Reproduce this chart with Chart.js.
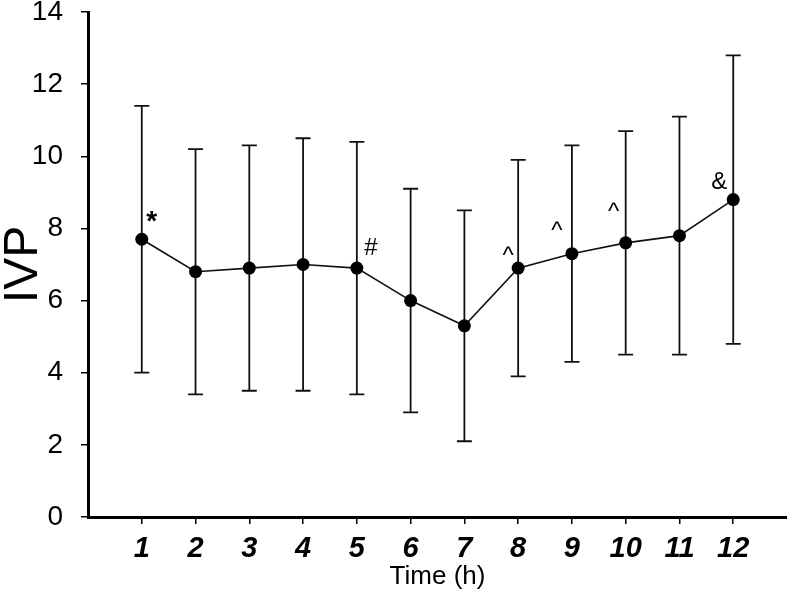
<!DOCTYPE html>
<html>
<head>
<meta charset="utf-8">
<script src="https://cdn.jsdelivr.net/npm/chart.js@4/dist/chart.umd.min.js"></script>
<style>
  html, body { margin: 0; padding: 0; background: #fff; }
  #wrap { width: 787px; height: 595px; }
</style>
</head>
<body>
<div id="wrap"><canvas id="ivp"></canvas></div>
<script>
(function(){
    // data
    const hours = [1, 2, 3, 4, 5, 6, 7, 8, 9, 10, 11, 12];
    const ivpMean = [7.7, 6.8, 6.9, 7.0, 6.9, 6.0, 5.3, 6.9, 7.3, 7.6, 7.8, 8.8];
    const ivpUpper = [11.4, 10.2, 10.3, 10.5, 10.4, 9.1, 8.5, 9.9, 10.3, 10.7, 11.1, 12.8];
    const ivpLower = [4.0, 3.4, 3.5, 3.5, 3.4, 2.9, 2.1, 3.9, 4.3, 4.5, 4.5, 4.8];
    const marks = ['*', '', '', '', '#', '', '', '^', '^', '^', '', '&'];
    const yTicks = [0, 2, 4, 6, 8, 10, 12, 14];

    // where each significance mark sits relative to its point (px)
    const markShift = [[10, -22], null, null, null, [14, -20], null, null, [-10, -12], [-15, -22], [-12, -30], null, [-14, -17]];

    const ctx = document.getElementById("ivp").getContext("2d");

    const errorBars = {
        id: 'errorBars',
        beforeDatasetsDraw(chart){
            const c = chart.ctx;
            const xs = chart.scales.x, ys = chart.scales.y;
            c.save();
            c.strokeStyle = '#111';
            c.lineWidth = 1.8;
            hours.forEach((h, i)=>{
                const px = xs.getPixelForValue(h);
                const top = ys.getPixelForValue(ivpUpper[i]);
                const bot = ys.getPixelForValue(ivpLower[i]);
                c.beginPath();
                c.moveTo(px, top); c.lineTo(px, bot);
                c.moveTo(px - 7.5, top); c.lineTo(px + 7.5, top);
                c.moveTo(px - 7.5, bot); c.lineTo(px + 7.5, bot);
                c.stroke();
            });
            c.restore();
        },
        afterDatasetsDraw(chart){
            const c = chart.ctx;
            const xs = chart.scales.x, ys = chart.scales.y;
            c.save();
            c.fillStyle = '#000';
            c.textAlign = 'center';
            c.textBaseline = 'middle';
            marks.forEach((m, i)=>{
                if(!m) return;
                const px = xs.getPixelForValue(hours[i]) + markShift[i][0];
                const py = ys.getPixelForValue(ivpMean[i]) + markShift[i][1];
                c.font = (m === '*' ? 'bold 28px' : '24px') + ' "Liberation Sans", Arial, sans-serif';
                c.fillText(m, px, py + (m === '*' ? 5 : 0));
            });
            c.restore();
        }
    };

    new Chart(ctx, {
        type: 'line',
        data: {
            datasets: [{
                data: hours.map((h, i)=>({x: h, y: ivpMean[i]})),
                borderColor: '#111',
                borderWidth: 1.6,
                pointRadius: 6.5,
                pointBackgroundColor: '#000',
                pointBorderColor: '#000',
                pointBorderWidth: 0,
                tension: 0,
                fill: false,
                clip: false
            }]
        },
        options: {
            responsive: true,
            maintainAspectRatio: false,
            animation: false,
            layout: { autoPadding: false, padding: { top: 12, right: 0, left: 0, bottom: 0 } },
            plugins: { legend: { display: false }, tooltip: { enabled: false } },
            scales: {
                x: {
                    type: 'linear',
                    min: 0,
                    max: 13,
                    afterBuildTicks: (s)=>{ s.ticks = hours.map(v=>({value: v})); },
                    afterFit: (s)=>{ s.height = 78; s.paddingLeft = 0; s.paddingRight = 0; },
                    border: { display: true, color: '#000', width: 3 },
                    grid: { drawOnChartArea: false, drawTicks: true, tickLength: 7, color: '#000', lineWidth: 1.5 },
                    ticks: {
                        color: '#000',
                        padding: 10,
                        maxRotation: 0,
                        autoSkip: false,
                        font: { family: '"Liberation Sans", Arial, sans-serif', size: 29, weight: 'bold', style: 'italic', lineHeight: 1 }
                    },
                    title: {
                        display: true,
                        text: 'Time (h)',
                        color: '#000',
                        padding: { top: 0, bottom: 5 },
                        font: { family: '"Liberation Sans", Arial, sans-serif', size: 26, lineHeight: 1 }
                    }
                },
                y: {
                    min: 0,
                    max: 14,
                    afterBuildTicks: (s)=>{ s.ticks = yTicks.map(v=>({value: v})); },
                    afterFit: (s)=>{ s.width = 88; s.paddingTop = 0; s.paddingBottom = 0; },
                    border: { display: true, color: '#000', width: 3 },
                    grid: { drawOnChartArea: false, drawTicks: true, tickLength: 7, color: '#000', lineWidth: 1.5 },
                    ticks: {
                        color: '#000',
                        padding: 18,
                        font: { family: '"Liberation Sans", Arial, sans-serif', size: 28, lineHeight: 1 }
                    },
                    title: {
                        display: true,
                        text: 'IVP',
                        color: '#000',
                        padding: { top: 1, bottom: 0 },
                        font: { family: '"Liberation Sans", Arial, sans-serif', size: 48, lineHeight: 0.95 }
                    }
                }
            }
        },
        plugins: [errorBars]
    });
}())
</script>
</body>
</html>
